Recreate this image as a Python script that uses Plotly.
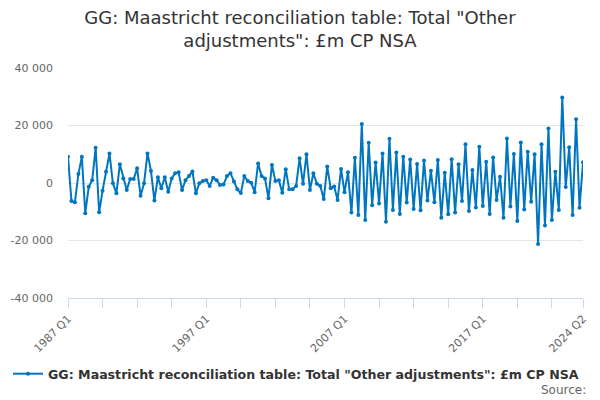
import plotly.graph_objects as go

# quarterly values, £m, 1987 Q1 .. 2024 Q2
first_year = 1987
values = [
    9100, -6300, -6700, 3100, 9100, -10500, -1300, 1000, 12300, -10200,
    -2700, 3900, 10300, -100, -3600, 6500, 1600, -2400, 1400, 1400,
    5100, -4400, -100, 10300, 4200, -6100, 2000, -1800, 2000, -3000,
    1600, 3400, 3700, -2400, 1000, 2400, 4000, -3600, -100, 700,
    1000, -1000, 1800, 1000, -700, -500, 2400, 3400, 500, -2200,
    -3500, 2400, 700, 100, -3200, 6800, 2400, 1600, -5300, 6300,
    700, 1000, -3400, 4800, -2200, -2200, -1000, 8600, -300, 10000,
    -2400, 3400, -300, -1000, -5600, 5700, -1800, -1200, -5900, 4900,
    -3200, 3700, -10300, 8800, -11100, 20500, -12900, 14000, -7700, 7100,
    -7100, 10300, -13500, 15400, -9400, 10600, -10800, 9100, -6800, 8200,
    -9000, 6600, -9500, 7800, -6100, 4300, -6700, 8000, -12100, 3600,
    -10900, 8300, -10300, 6500, -6300, 13500, -9700, 4500, -8500, 12600,
    -8000, 7400, -10800, 8900, -5900, 2200, -12100, 15500, -8200, 10100,
    -13200, 14100, -9200, 10900, -6500, 10000, -21200, 13500, -14800, 19000,
    -12900, 3900, -9400, 29700, -1400, 12400, -11100, 22200, -8600, 7200,
]
quarters = [f"{first_year + k // 4} Q{k % 4 + 1}" for k in range(len(values))]

# tick marks every 10 quarters plus the last one; labels on a few of them
tick_pos = list(range(0, len(values), 10)) + [len(values) - 1]
label_at = {"1987 Q1", "1997 Q1", "2007 Q1", "2017 Q1", "2024 Q2"}
tick_vals = [quarters[p] for p in tick_pos]
tick_text = [q if q in label_at else "" for q in tick_vals]

y_ticks = [40000, 20000, 0, -20000, -40000]
y_tick_text = ["40 000", "20 000", "0", "-20 000", "-40 000"]

name = 'GG: Maastricht reconciliation table: Total "Other adjustments": £m CP NSA'
blue = "#0076c0"

fig = go.Figure(go.Scatter(
    x=quarters, y=values, name=name,
    mode="lines+markers",
    line=dict(color=blue, width=2),
    marker=dict(color=blue, size=4),
))

# the page body has an 8px margin, so the figure is 8px smaller than the window
fig.update_layout(
    width=592, height=392,
    margin=dict(l=60, r=17, t=60, b=102, autoexpand=False),
    paper_bgcolor="white", plot_bgcolor="white",
    font=dict(family="DejaVu Sans", color="#666666", size=11),
    title=dict(
        text='GG: Maastricht reconciliation table: Total "Other<br>adjustments": £m CP NSA',
        x=0.4932, xanchor="center", yref="container", y=0.959, yanchor="middle",
        font=dict(size=18, color="#333333"),
    ),
    showlegend=True,
    legend=dict(
        orientation="h", xref="container", x=0.0, xanchor="left",
        yref="container", y=0.0663, yanchor="middle",
        font=dict(size=12.6, color="#333333", weight="bold"),
    ),
    annotations=[dict(
        text="Source:", xref="paper", yref="paper", x=1.0097, y=-0.40,
        xanchor="right", yanchor="middle", showarrow=False,
        font=dict(size=12, color="#666666"),
    )],
)

fig.update_xaxes(
    type="category", range=[0, len(values) - 1], automargin=False,
    tickmode="array", tickvals=tick_vals, ticktext=tick_text,
    tickangle=-45, ticks="outside", ticklen=9, tickcolor="#ccd6eb",
    showline=True, linecolor="#ccd6eb", linewidth=1,
    showgrid=False,
)
fig.update_yaxes(
    range=[-40000, 40000], automargin=False,
    tickmode="array", tickvals=y_ticks, ticktext=y_tick_text,
    gridcolor="#e6e6e6", zeroline=False, showline=False,
    ticklabelstandoff=14,
)

fig.write_html("out.html")
